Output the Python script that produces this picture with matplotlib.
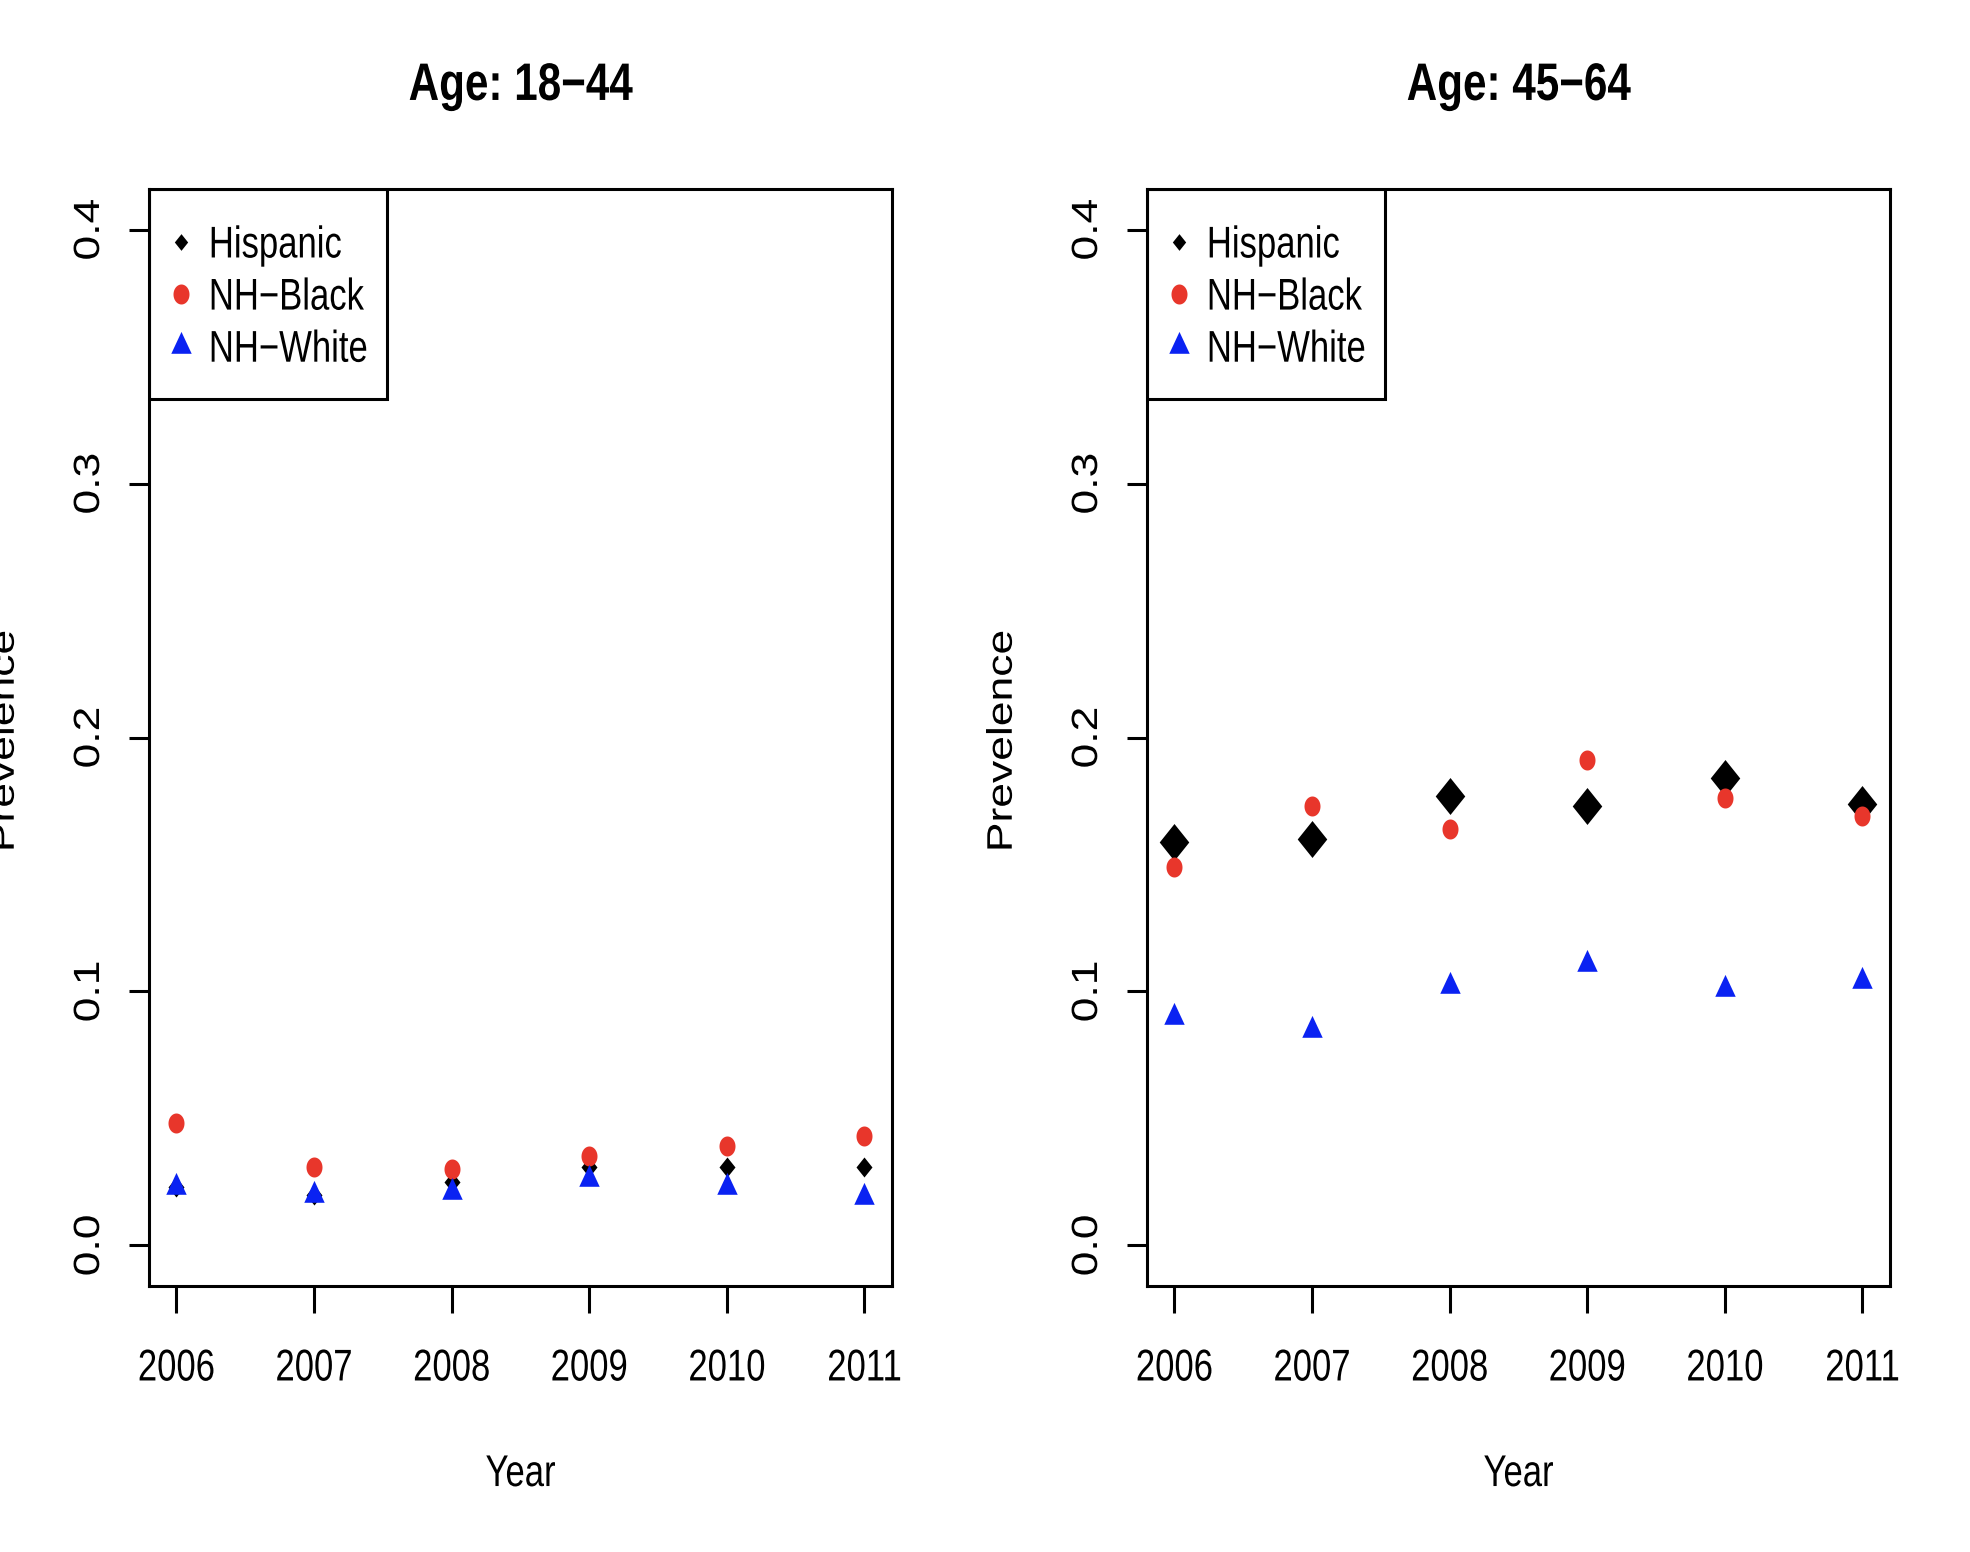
import numpy as np
import matplotlib.pyplot as plt
from matplotlib.lines import Line2D
from matplotlib.patches import Rectangle
from matplotlib.patheffects import AbstractPathEffect
from matplotlib.transforms import Affine2D

# Daten
years = [2006, 2007, 2008, 2009, 2010, 2011]
groups = ['Hispanic', 'NH\u2212Black', 'NH\u2212White']
titles = ['Age: 18\u221244', 'Age: 45\u221264']

young_hispanic = [0.023, 0.020, 0.025, 0.031, 0.031, 0.031]
young_black = [0.048, 0.031, 0.030, 0.035, 0.039, 0.043]
young_white = [0.023, 0.020, 0.021, 0.026, 0.023, 0.019]

mid_hispanic = [0.159, 0.160, 0.177, 0.173, 0.184, 0.174]
mid_black = [0.149, 0.173, 0.164, 0.191, 0.176, 0.169]
mid_white = [0.090, 0.085, 0.102, 0.111, 0.101, 0.104]

yticks = [0.0, 0.1, 0.2, 0.3, 0.4]

schrift = ['Liberation Sans', 'DejaVu Sans']
red = '#e8362b'
blue = '#0a22f2'


class Stauchen(AbstractPathEffect):
    """Text schmaler zeichnen (das Original ist horizontal gestaucht)."""

    def __init__(self, sx=1.0, sy=1.0, links=False):
        super().__init__()
        self.sx, self.sy, self.links = sx, sy, links

    def draw_path(self, renderer, gc, tpath, affine, rgbFace=None):
        ext = tpath.get_extents()
        cx = ext.x0 if self.links else (ext.x0 + ext.x1) / 2
        cy = (ext.y0 + ext.y1) / 2
        t = (Affine2D().translate(-cx, -cy).scale(self.sx, self.sy)
             .translate(cx, cy) + affine)
        renderer.draw_path(gc, tpath, t, rgbFace)


# Marker etwas schmaler als hoch, wie im Original
raute = [(0, 1), (0.8, 0), (0, -1), (-0.8, 0)]
t = np.linspace(0, 2 * np.pi, 60)
ellipse = list(zip(0.8 * np.cos(t), np.sin(t)))
dreieck = [(0, 1), (0.7, -0.5), (-0.7, -0.5)]

fig = plt.figure(figsize=(19.7, 15.52), dpi=100)

panels = [
    (0.0756, young_hispanic, young_black, young_white, 14.4),
    (0.5822, mid_hispanic, mid_black, mid_white, 26.6),
]

for i, (left, hisp, black, white, hsize) in enumerate(panels):
    ax = fig.add_axes([left, 0.1714, 0.3772, 0.7068])

    ax.plot(years, hisp, linestyle='none', marker=raute, ms=hsize,
            color='black', mew=0)
    ax.plot(years, black, linestyle='none', marker=ellipse, ms=14.4,
            color=red, mew=0)
    ax.plot(years, white, linestyle='none', marker=dreieck, ms=21,
            color=blue, mew=0)

    ax.set_xlim(2005.8, 2011.2)
    ax.set_ylim(-0.016, 0.416)
    ax.set_xticks(years)
    ax.set_xticklabels([str(y) for y in years], family=schrift, fontsize=32,
                       path_effects=[Stauchen(0.78)])
    ax.set_yticks(yticks)
    ax.set_yticklabels(['%.1f' % v for v in yticks], family=schrift,
                       fontsize=32, rotation=90, va='center',
                       path_effects=[Stauchen(1.0, 0.82)])
    ax.tick_params(axis='x', length=19.5, width=2.2, pad=25.5)
    ax.tick_params(axis='y', length=14.5, width=2.2, pad=13)
    for s in ax.spines.values():
        s.set_linewidth(2.2)

    # Legende mit kleinen Markern, Rahmen separat
    handles = [
        Line2D([], [], linestyle='none', marker=raute, ms=12, color='black', mew=0),
        Line2D([], [], linestyle='none', marker=ellipse, ms=14.4, color=red, mew=0),
        Line2D([], [], linestyle='none', marker=dreieck, ms=21, color=blue, mew=0),
    ]
    leg = ax.legend(handles, groups, loc='upper left',
                    bbox_to_anchor=(0, 1 - 8 / 1097), borderaxespad=0,
                    frameon=False, prop={'family': schrift, 'size': 32},
                    labelspacing=0.25, borderpad=0.64, handlelength=0.15,
                    handletextpad=0.54)
    for txt in leg.get_texts():
        txt.set_path_effects([Stauchen(0.78, links=True)])
    ax.add_patch(Rectangle((0, 1 - 0.1914), 0.320, 0.1914,
                           transform=ax.transAxes, fill=False, lw=2.2,
                           ec='black', zorder=5))

    xc = left + 0.3772 / 2
    fig.text(xc, 0.9356, titles[i], ha='center', va='baseline',
             fontsize=38, fontweight='bold', family=schrift,
             path_effects=[Stauchen(0.8)])
    fig.text(xc, 0.0425, 'Year', ha='center', va='baseline',
             fontsize=32, family=schrift, path_effects=[Stauchen(0.78)])
    fig.text(left - 132 / 1970, 0.5226, 'Prevelence', rotation=90,
             rotation_mode='anchor', ha='center', va='baseline',
             fontsize=32, family=schrift, path_effects=[Stauchen(1.0, 0.8)])

fig.savefig('out.png', dpi=100)
